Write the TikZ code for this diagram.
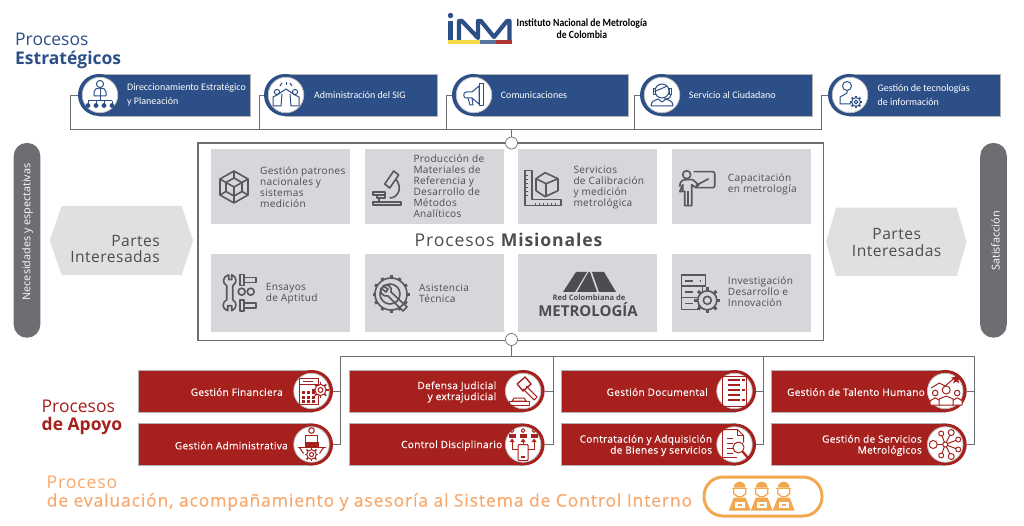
\documentclass[tikz,border=0pt]{standalone}
\usepackage{fontspec}
\setmainfont{Open Sans}
\newfontfamily\opsp[LetterSpace=3]{Open Sans}
\newfontfamily\opmed[LetterSpace=3,FakeBold=0.15]{Open Sans}
\newfontfamily\opwide[LetterSpace=5]{Open Sans}
\newfontfamily\opsemi[LetterSpace=5,FakeBold=0.3]{Open Sans}
\newfontfamily\carl{Carlito}
\newfontfamily\carlnar[FakeStretch=0.88]{Carlito}
\usetikzlibrary{arrows.meta,positioning}
\definecolor{inmblue}{RGB}{44,79,135}
\definecolor{inmred}{RGB}{166,32,29}
\definecolor{inmgray}{RGB}{109,110,113}
\definecolor{boxgray}{RGB}{214,215,219}
\definecolor{hexgray}{RGB}{224,224,224}
\definecolor{icongray}{RGB}{88,89,91}
\definecolor{inmorange}{RGB}{242,168,78}
\definecolor{txtorange}{RGB}{249,167,106}
\definecolor{txtgray}{RGB}{77,77,79}
\definecolor{inmyellow}{RGB}{245,215,70}

% small gear: x, y, radius
\newcommand{\gearic}[3]{%
  \foreach \a in {0,45,...,315} {\draw[line width=1.5pt] (#1,#2) ++(\a:{#3*0.8}) -- ++(\a:{#3*0.35});}
  \filldraw[fill=white] (#1,#2) circle ({#3*0.8});
  \draw (#1,#2) circle ({#3*0.35});
}
% blue icons
\newcommand{\iconorg}{%
  \draw (0,-11) circle (3.6);
  \draw (-6,1) -- (-6,-3) .. controls (-6,-6) and (-3,-7) .. (0,-7) .. controls (3,-7) and (6,-6) .. (6,-3) -- (6,1) -- cycle;
  \draw (0,-7) -- (0,6) (-12,6) -- (12,6);
  \foreach \x in {-12,-4,4,12} {\draw (\x,6) -- (\x,9); \fill (\x,10.5) circle (2.4);}
}
\newcommand{\iconteam}{%
  \foreach \s in {-1,1} {
    \draw (\s*9,-3) circle (2.6);
    \draw (\s*13,11) -- (\s*13,2) -- (\s*9,0) -- (0,-6);
    \draw (\s*4,-1) -- (\s*5,11) -- (\s*13,11);
    \draw (\s*4,-12) -- (\s*6,-9);
  }
  \draw (0,-13) -- (0,-10);
}
\newcommand{\iconmega}{%
  \draw (-8,-3) -- (-2,-3) -- (5,-9) -- (5,9) -- (-2,3) -- (-8,3) .. controls (-11,3) and (-11,-3) .. (-8,-3) -- cycle;
  \draw (-6,3) -- (-4,10) -- (-1,10) -- (-2,3);
  \draw (5,-11) -- (9,-11) -- (9,11) -- (5,11) -- cycle;
}
\newcommand{\iconagent}{%
  \draw (0,-4) circle (7);
  \draw (-7,-4) .. controls (-3,-5) and (3,-8) .. (5,-9);
  \draw (-9,-6) rectangle (-7,0) (7,-6) rectangle (9,0);
  \draw (9,0) .. controls (8,4) and (5,4) .. (2,4);
  \draw (-11,11) .. controls (-11,6) and (-7,5) .. (-4,4) -- (0,7) -- (4,4) .. controls (7,5) and (11,6) .. (11,11) -- cycle;
}
\newcommand{\iconuser}{%
  \draw (-3,-9) circle (4.5);
  \draw (-3,-4) -- (-3,-2) -- (-10,2) -- (-10,9) -- (1,9);
  \gearic{6}{7}{5.5}
}
% gray icons
\newcommand{\iconcube}{%
  \draw (0,-16) -- (14,-8) -- (14,8) -- (0,16) -- (-14,8) -- (-14,-8) -- cycle;
  \draw (0,-9) -- (8,-4.5) -- (8,4.5) -- (0,9) -- (-8,4.5) -- (-8,-4.5) -- cycle;
  \draw (0,-16) -- (0,-9) (14,-8) -- (8,-4.5) (14,8) -- (8,4.5) (0,16) -- (0,9) (-14,8) -- (-8,4.5) (-14,-8) -- (-8,-4.5);
  \draw (-8,-4.5) -- (0,0) -- (8,-4.5) (0,0) -- (0,9);
}
\newcommand{\iconmicro}{%
  \draw (-2,-3) -- (7,-16) -- (12,-12) -- (3,1) -- cycle;
  \draw (9,-8) .. controls (16,0) and (12,11) .. (3,11);
  \draw (-14,5) rectangle (-2,8);
  \draw (-10,8) rectangle (-2,11);
  \draw (-8,11) -- (-8,15) (-14,18) -- (14,18) -- (14,15) -- (-14,15) -- cycle;
}
\newcommand{\iconruler}{%
  \draw (-18,-17) -- (-11,-17) -- (-11,12) -- (18,12) -- (18,18) -- (-18,18) -- cycle;
  \foreach \y in {-12,-8,...,8} {\draw[line width=.8pt] (-18,\y) -- (-15,\y);}
  \foreach \x in {-8,-4,...,14} {\draw[line width=.8pt] (\x,18) -- (\x,15);}
  \draw (2,-15) -- (15,-9) -- (15,3) -- (2,9) -- (-7,3) -- (-7,-9) -- cycle;
  \draw (-7,-9) -- (3,-4) -- (15,-9) (3,-4) -- (3,9);
}
\newcommand{\iconteach}{%
  \draw[rounded corners=2pt] (-3,-16) -- (18,-16) -- (18,0) -- (-1,0);
  \draw (-10,-13) circle (4);
  \draw (-1,-2) -- (12,-9);
  \draw (-17,-1) .. controls (-17,-7) and (-14,-8) .. (-10,-8) -- (-4,-8) -- (2,-3) -- (-1,0) -- (-5,-3) -- (-5,18) -- (-12,18) -- (-12,3) (-14,-3) -- (-14,4) -- (-17,4) -- cycle;
  \draw (-9,3) -- (-9,18);
}
\newcommand{\icontools}{%
  \draw (-9,-18) -- (-9,-13) -- (-6,-13) -- (-6,-18) .. controls (-1,-16) and (0,-10) .. (-5,-7) -- (-5,7) .. controls (0,10) and (-1,16) .. (-6,18) -- (-6,13) -- (-10,13) -- (-10,18) .. controls (-16,16) and (-16,10) .. (-11,7) -- (-11,-7) .. controls (-16,-10) and (-15,-16) .. (-9,-18);
  \draw (4,-1) circle (3.5) (13,-1) circle (3.5);
  \draw (2,-18) rectangle (6,-7) (6,-15) rectangle (18,-10);
  \draw (2,7) rectangle (6,18) (6,10) rectangle (18,15);
}
\newcommand{\icongearw}{%
  \foreach \a in {0,30,...,330} {\draw[line width=3pt] (\a:15) -- (\a:18.5);}
  \filldraw[fill=boxgray] (0,0) circle (16);
  \draw (-1,0) circle (10);
  \draw (-8,-8) .. controls (-4,-11) and (2,-7) .. (0,-2) -- (16,13) -- (12,17) -- (-3,2) .. controls (-8,3) and (-12,-2) .. (-10,-6) -- (-5,-2) -- (-3,-5) -- cycle;
}
\newcommand{\iconserver}{%
  \draw (-17,-18) rectangle (7,-7) (-17,-7) rectangle (4,4) (-17,4) rectangle (0,16);
  \draw (-13,-12.5) -- (-5,-12.5) (-13,-1.5) -- (-5,-1.5) (-13,10) -- (-5,10);
  \draw (2,-12.5) -- (3,-12.5);
  \foreach \a in {0,45,...,315} {\draw[line width=3pt] (9,7) ++(\a:9) -- ++(\a:4);}
  \filldraw[fill=boxgray] (9,7) circle (9.5);
  \draw (9,7) circle (4);
}
% red icons
\newcommand{\iconcalc}{%
  \draw (-12,-13) rectangle (7,13);
  \draw (-12,-7) -- (7,-7) (-9,-10) -- (1,-10);
  \foreach \x in {-10,-5,0} {\foreach \y in {0,4.5,9} {\fill (\x,\y) rectangle ++(3.5,3);}}
  \gearic{9}{-1}{7}
}
\newcommand{\icongavel}{%
  \draw[line width=1.4pt] (-6,-7) -- (2,-14) -- (8,-7) -- (0,0) -- cycle;
  \draw (3,-5) -- (14,6) -- (11,9) -- (0,-2);
  \draw (-9,7) -- (1,7) -- (3,10) -- (-11,10) -- cycle;
  \draw (-14,10) rectangle (6,14);
}
\newcommand{\icondoc}{%
  \draw (-12,-15) rectangle (12,15);
  \foreach \y in {-11,-6,...,9} {\draw[line width=1.6pt] (-7,\y) -- (5,\y);}
  \foreach \y in {-11,-1,9} {\fill (7,\y-1) rectangle ++(3,2);}
}
\newcommand{\icontalent}{%
  \draw (-14,-3) -- (-6,-8) -- (0,-5) -- (8,-12);
  \fill (11,-17) -- (12.5,-14) -- (16,-13.5) -- (13,-11) -- (14,-7.5) -- (11,-9.5) -- (8,-7.5) -- (9,-11) -- (6,-13.5) -- (9.5,-14) -- cycle;
  \foreach \x/\y/\r/\w in {-10/2/2.8/5,12/2/2.8/5,1/-1/4/7} {
    \draw (\x,\y) circle (\r);
    \filldraw[fill=white] (\x-\w,14) -- (\x-\w,\y+\r+5) -- (\x,\y+\r+2) -- (\x+\w,\y+\r+5) -- (\x+\w,14) -- cycle;
  }
}
\newcommand{\icondesk}{%
  \draw (0,-14) circle (2.8);
  \filldraw[fill=white] (-6,-9) rectangle (6,2);
  \fill (-7,-3) rectangle (7,3);
  \draw[line width=1.8pt] (-14,3) -- (14,3);
  \gearic{0}{10}{6}
  \draw (-12,3) -- (-8,9) (12,3) -- (8,9);
}
\newcommand{\iconthree}{%
  \foreach \x in {-11,0,11} {
    \draw (\x,-14) circle (1.9);
    \fill (\x-3.5,-11) -- (\x+3.5,-11) -- (\x+3.5,-7) -- (\x-3.5,-7) -- cycle;
  }
  \draw[rounded corners=1pt] (-5,0) rectangle (5,16);
  \fill (-2,11) rectangle (2,13);
  \draw (0,-5) -- (0,0) (-11,-5) -- (-11,5) -- (-5,5) (11,-5) -- (11,5) -- (5,5);
  \fill (0,-6) -- (2.5,-2.5) -- (-2.5,-2.5) -- cycle (-11,-6) -- (-8.5,-2.5) -- (-13.5,-2.5) -- cycle (11,-6) -- (13.5,-2.5) -- (8.5,-2.5) -- cycle;
}
\newcommand{\iconsearch}{%
  \draw (-12,-15) -- (3,-15) -- (9,-9) -- (9,-2);
  \draw (-12,-15) -- (-12,13) -- (2,13);
  \draw (3,-15) -- (3,-9) -- (9,-9);
  \foreach \y in {-6,-1,4,9} {\draw (-8,\y) -- (-2,\y);}
  \filldraw[fill=white] (4,3) circle (5.5);
  \draw[line width=2.2pt] (8,7) -- (14,14);
}
\newcommand{\iconnet}{%
  \foreach \x/\y in {-12/0,-4/-11,-4/11,0/0,6/-12,6/12,13/-5,13/5} {\draw (0,0) -- (\x,\y);}
  \foreach \x/\y/\r in {-12/0/4,-4/-11/2.5,-4/11/2.5,0/0/2.5,6/-12/3,6/12/3,13/-5/2.5,13/5/2.5} {\filldraw[fill=white] (\x,\y) circle (\r);}
}
% orange icon
\newcommand{\iconworker}{%
  \foreach \x in {-22,0,22} {
    \begin{scope}[shift={(\x,0)}]
      \fill (-6,-9) arc (180:360:6) -- cycle;
      \fill (-7.5,-9) rectangle (7.5,-7.5);
      \draw[line width=1.4pt] (-6,-8) -- (-6,-3) -- (-2,0) -- (2,0) -- (6,-3) -- (6,-8);
      \fill (-6,1) -- (6,1) -- (11,14) -- (-11,14) -- cycle;
      \fill[white] (-5,5) rectangle (5,11);
      \fill (-2,7) rectangle (2,9);
    \end{scope}
  }
}

\begin{document}
\begin{tikzpicture}[x=1pt, y=-1pt,
  conn/.style={draw=inmgray, line width=0.9pt},
  dot/.style={circle, draw=inmgray, fill=white, line width=0.7pt, minimum size=12pt, inner sep=0pt},
  bluebox/.style={fill=inmblue, draw=black!30, line width=0.4pt, minimum height=42pt, inner sep=0pt, anchor=west},
  redbox/.style={fill=inmred, draw=black!30, line width=0.4pt, minimum height=42pt, minimum width=174pt, inner sep=0pt, anchor=east},
  endcap/.style={circle, minimum size=42pt, inner sep=0pt},
  inner/.style={circle, fill=white, draw=black!25, line width=0.8pt, minimum size=35.5pt, inner sep=0pt},
  bluetxt/.style={text=white, anchor=west, align=left, inner sep=0pt, font=\fontsize{10}{14}\selectfont\carl},
  redtxt/.style={text=white, anchor=east, align=right, inner sep=0pt, font=\fontsize{10.1}{11}\selectfont\opmed},
  graybox/.style={fill=boxgray, minimum width=139pt, inner sep=0pt, anchor=north west},
  graytxt/.style={text=txtgray, anchor=west, align=left, inner sep=0pt, font=\fontsize{10.1}{11}\selectfont\opsp},
  pill/.style={fill=inmgray, rounded corners=13pt, minimum width=26.6pt, minimum height=194.7pt, inner sep=0pt},
  pilltxt/.style={text=white, rotate=90, inner sep=0pt, font=\fontsize{10.8}{12}\selectfont},
  hextxt/.style={text=txtgray, inner sep=0pt, font=\fontsize{15.6}{16.6}\selectfont\opsp},
  head/.style={anchor=west, inner sep=0pt, font=\fontsize{17.5}{20}\selectfont}
]
\useasboundingbox (0,0) rectangle (1024,526);

% Logo
\node[anchor=west, inner sep=0pt, font=\fontsize{11}{11}\selectfont\carlnar] (inst) at (516.5,23.5) {\textbf{Instituto Nacional de Metrología}};
\node[inner sep=0pt, font=\fontsize{11}{11}\selectfont\carlnar, below=2.5pt of inst] (colom) {\textbf{de Colombia}};
\fill[inmblue] (450.5,15.5) circle (2.7);
\draw[inmblue, line width=4.6pt, line join=round] (450.5,21) -- (450.5,40);
\draw[inmblue, line width=4.2pt, line join=round] (459,40) -- (459,21) -- (462,21) -- (478,38) -- (478,21) -- (481,21) -- (494,37) -- (507,21) -- (509.5,21) -- (509.5,40);
\fill[inmyellow] (448,40.5) rectangle (480,44);
\fill[inmblue!80] (480,40.5) rectangle (496,44);
\fill[inmred!90] (496,40.5) rectangle (512,44);

% Procesos Estrategicos
\node[head, text=inmblue] (estr1) at (15,39.5) {Procesos};
\node[head, text=inmblue, font=\fontsize{17.5}{20}\selectfont\bfseries] (estr2) at (15,60) {Estratégicos};
\foreach \n/\cx/\w/\tx/\lbl/\ic in {
  1/99/151/127/{Direccionamiento Estratégico\\y Planeación}/iconorg,
  2/285/152/314/{Administración del SIG}/iconteam,
  3/473/155/500.7/{Comunicaciones}/iconmega,
  4/661/151/688.7/{Servicio al Ciudadano}/iconagent,
  5/849/151/877.3/{Gestión de tecnologías\\de información}/iconuser} {
  \node[bluebox, minimum width=\w pt] (est\n) at (\cx,95) {};
  \node[endcap, fill=inmblue] (estc\n) at (\cx,95) {};
  \node[inner] (esti\n) at (\cx+1,95) {};
  \node[bluetxt] (estt\n) at (\tx,95) {\lbl};
  \begin{scope}[shift={(\cx+1,95)}, color=inmblue, line width=1pt, line join=round]
    \csname\ic\endcsname
  \end{scope}
}
\coordinate (tb1) at (70.5,129);
\coordinate (tb2) at (259.5,129);
\coordinate (tb3) at (446.7,129);
\coordinate (tb4) at (634.3,129);
\coordinate (tb5) at (821.7,129);
\coordinate (tbm) at (511.5,129);
\draw[conn] (estc1.west) -| (tb1) -- (tb5);
\draw[conn] (estc2.west) -| (tb2);
\draw[conn] (estc3.west) -| (tb3);
\draw[conn] (estc4.west) -| (tb4);
\draw[conn] (estc5.west) -| (tb5);

% Procesos Misionales
\node[draw=inmgray, line width=1.4pt, minimum width=625.5pt, minimum height=197.5pt, inner sep=0pt] (mision) at (510.7,241.7) {};
\node[dot] (topdot) at (511.5,143) {};
\node[dot] (botdot) at (511.5,339.5) {};
\draw[conn] (tbm) -- (topdot);
\foreach \n/\x in {1/211,2/364.7,3/518,4/671.7} {
  \node[graybox, minimum height=75.3pt] (mis\n) at (\x,148.7) {};
  \node[graybox, minimum height=77.4pt] (mib\n) at (\x,254.3) {};
}
\node[graytxt] (t1) at (260,187) {Gestión patrones\\nacionales y\\sistemas\\medición};
\node[graytxt] (t2) at (413.3,186) {Producción de\\Materiales de\\Referencia y\\Desarrollo de\\Métodos\\Analíticos};
\node[graytxt] (t3) at (573.3,188) {Servicios\\de Calibración\\y medición\\metrológica};
\node[graytxt] (t4) at (727.7,184.5) {Capacitación\\en metrología};
\node[graytxt] (t5) at (265.7,294) {Ensayos\\de Aptitud};
\node[graytxt] (t6) at (419,293.5) {Asistencia\\Técnica};
\node[graytxt] (t8) at (727.7,292) {Investigación\\Desarrollo e\\Innovación};
\node[text=txtgray, inner sep=0pt, font=\fontsize{17.6}{20}\selectfont\opwide] (misional) at (509,240) {Procesos \textbf{Misionales}};
\foreach \ic/\x/\y in {iconcube/234/187,iconmicro/386.7/187,iconruler/543/187.7,iconteach/696.7/187.7,icontools/237.7/292.7,icongearw/391/294,iconserver/698.3/293.3} {
  \begin{scope}[shift={(\x,\y)}, color=icongray, line width=1.6pt, line join=round]
    \csname\ic\endcsname
  \end{scope}
}
% Red Colombiana logo
\fill[txtgray] (563,292) -- (576,272) -- (587,272) -- (575,292) -- cycle;
\fill[txtgray] (577,292) -- (588.5,272) -- (590,272) -- (597,292) -- cycle;
\fill[txtgray] (592,272) -- (604,272) -- (616,292) -- (599,292) -- cycle;
\node[text=txtgray, inner sep=0pt, font=\fontsize{7.6}{8}\selectfont\bfseries] (redcol) at (589,298) {Red Colombiana de};
\node[text=txtgray, inner sep=0pt, font=\fontsize{15}{15}\selectfont\bfseries] (redmet) at (588,309.5) {METROLOGÍA};

% Partes interesadas
\node[pill] (pillL) at (27,240.3) {};
\node[pill] (pillR) at (993.5,240.3) {};
\node[pilltxt] (necesid) at (27.5,232) {Necesidades y espectativas};
\node[pilltxt] (satisf) at (995.5,241) {Satisfacción};
\fill[hexgray] (49.7,240.5) -- (61.7,206) -- (181.7,206) -- (193,240.5) -- (181.7,275) -- (61.7,275) -- cycle;
\fill[hexgray] (826,242) -- (836,207.7) -- (956.7,207.7) -- (966.7,242) -- (956.7,276) -- (836,276) -- cycle;
\node[hextxt, align=right, anchor=east] (parL) at (160,249) {Partes\\Interesadas};
\node[hextxt, align=center] (parR) at (896.7,242.5) {Partes\\Interesadas};

% Procesos de Apoyo
\node[head, text=inmred] (apo1) at (41.5,406) {Procesos};
\node[head, text=inmred, font=\fontsize{17.5}{20}\selectfont\bfseries] (apo2) at (41.5,426) {de Apoyo};
\foreach \n/\cx/\cy/\rx/\lbl/\ic in {
  a1/312/391/283/{Gestión Financiera}/iconcalc,
  a2/523.6/391/496.4/{Defensa Judicial\\y extrajudicial}/icongavel,
  a3/735/391/708/{Gestión Documental}/icondoc,
  a4/945.7/391/925/{Gestión de Talento Humano}/icontalent,
  b1/312/444.5/288/{Gestión Administrativa}/icondesk,
  b2/523.6/444.5/502.5/{Control Disciplinario}/iconthree,
  b3/735/444.5/712.3/{Contratación y Adquisición\\de Bienes y servicios}/iconsearch,
  b4/945.7/444.5/922/{Gestión de Servicios\\Metrológicos}/iconnet} {
  \node[redbox] (rb\n) at (\cx,\cy) {};
  \node[endcap, fill=inmred] (rc\n) at (\cx,\cy) {};
  \node[inner] (ri\n) at (\cx-0.5,\cy) {};
  \node[redtxt] (rt\n) at (\rx,\cy+1) {\lbl};
  \begin{scope}[shift={(\cx-0.5,\cy)}, color=inmred, line width=1pt, line join=round]
    \csname\ic\endcsname
  \end{scope}
}
\coordinate (bb1) at (340.4,356.5);
\coordinate (bb2) at (553.3,356.5);
\coordinate (bb3) at (763.3,356.5);
\coordinate (bb4) at (974.7,356.5);
\coordinate (bbm) at (511.5,356.5);
\draw[conn] (botdot) -- (bbm);
\draw[conn] (bb1) -- (bb4);
\draw[conn] (rca1.east) -| (bb1);
\draw[conn] (rcb1.east) -| (bb1);
\draw[conn] (rca2.east) -| (bb2);
\draw[conn] (rcb2.east) -| (bb2);
\draw[conn] (rca3.east) -| (bb3);
\draw[conn] (rcb3.east) -| (bb3);
\draw[conn] (rca4.east) -| (bb4);
\draw[conn] (rcb4.east) -| (bb4);

% Proceso de evaluacion
\node[head, text=txtorange, font=\fontsize{17.6}{20}\selectfont\opwide] (eva1) at (46.5,482.5) {Proceso};
\node[head, text=txtorange, font=\fontsize{17.5}{20}\selectfont\opsemi] (eva2) at (46.5,502) {de evaluación, acompañamiento y asesoría al Sistema de Control Interno};
\node[draw=inmorange, fill=white, line width=3pt, rounded corners=19pt, minimum width=118pt, minimum height=39pt, inner sep=0pt] (ctrl) at (763,496.5) {};
\begin{scope}[shift={(761.7,496.7)}, color=inmorange, line width=1pt, line join=round]
  \iconworker
\end{scope}
\end{tikzpicture}
\end{document}
